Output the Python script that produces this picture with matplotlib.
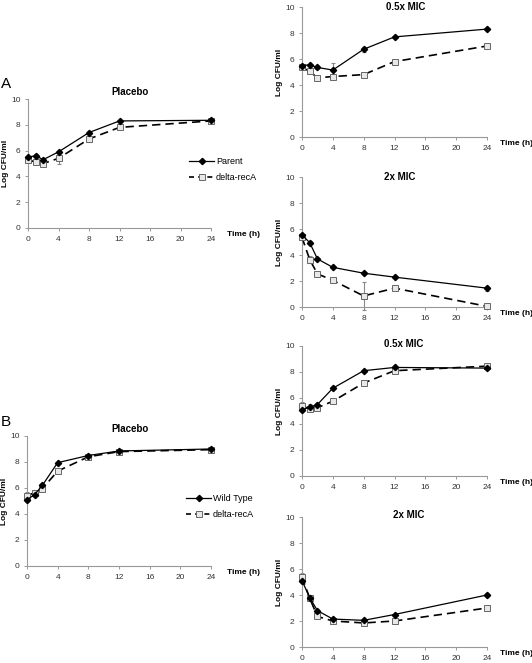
import numpy as np
import matplotlib
matplotlib.use("Agg")
import matplotlib.pyplot as plt
from matplotlib.lines import Line2D

plt.rcParams['font.family'] = ['Liberation Sans', 'DejaVu Sans']

# Temps de prélèvement (h)
t = [0, 1, 2, 4, 8, 12, 24]

# Panneau A
a_plac_par = [5.5, 5.6, 5.3, 5.9, 7.4, 8.3, 8.35]
a_plac_rec = [5.3, 5.1, 5.0, 5.4, 6.9, 7.8, 8.3]
a_plac_par_err = [0.1, 0.1, 0.1, 0.1, 0.15, 0.05, 0.1]
a_plac_rec_err = [0.1, 0.1, 0.1, 0.4, 0.15, 0.1, 0.15]

a_half_par = [5.5, 5.55, 5.35, 5.15, 6.75, 7.7, 8.3]
a_half_rec = [5.35, 5.05, 4.55, 4.65, 4.8, 5.8, 7.0]
a_half_par_err = [0.1, 0.1, 0.1, 0.55, 0.2, 0.05, 0.05]
a_half_rec_err = [0.1, 0.1, 0.05, 0.05, 0.05, 0.1, 0.05]

a_two_par = [5.55, 4.95, 3.7, 3.05, 2.6, 2.3, 1.45]
a_two_rec = [5.35, 3.65, 2.55, 2.05, 0.85, 1.45, 0.05]
a_two_par_err = [0.1, 0.1, 0.1, 0.05, 0.05, 0.05, 0.2]
a_two_rec_err = [0.15, 0.3, 0.1, 0.05, 1.1, 0.1, 0.05]

# Panneau B
b_plac_wt = [5.1, 5.5, 6.2, 7.95, 8.5, 8.85, 9.0]
b_plac_rec = [5.4, 5.65, 5.95, 7.3, 8.4, 8.8, 8.95]
b_plac_wt_err = [0.1, 0.1, 0.1, 0.05, 0.1, 0.05, 0.05]
b_plac_rec_err = [0.3, 0.1, 0.1, 0.05, 0.1, 0.05, 0.05]

b_half_wt = [5.1, 5.3, 5.5, 6.75, 8.1, 8.35, 8.3]
b_half_rec = [5.4, 5.15, 5.25, 5.75, 7.15, 8.1, 8.45]
b_half_wt_err = [0.1, 0.25, 0.1, 0.05, 0.05, 0.05, 0.05]
b_half_rec_err = [0.3, 0.1, 0.1, 0.05, 0.05, 0.05, 0.05]

b_two_wt = [5.1, 3.8, 2.8, 2.15, 2.05, 2.5, 4.0]
b_two_rec = [5.4, 3.75, 2.35, 2.0, 1.85, 2.0, 3.0]
b_two_wt_err = [0.1, 0.1, 0.1, 0.05, 0.05, 0.05, 0.15]
b_two_rec_err = [0.3, 0.1, 0.1, 0.05, 0.05, 0.05, 0.05]

xticks = [0, 4, 8, 12, 16, 20, 24]
yticks = [0, 2, 4, 6, 8, 10]

W, H = 532, 663
fig = plt.figure(figsize=(W / 100, H / 100), dpi=100)


def panneau(left, top, right, bottom, titre, y1, e1, y2, e2, ttl_x, ttl_dy, time_dx):
    ax = fig.add_axes([left / W, 1 - bottom / H, (right - left) / W, (bottom - top) / H])
    ax.errorbar(t, y1, yerr=e1, fmt='none', ecolor='#888888', elinewidth=0.8,
                capsize=1.5, capthick=0.8, zorder=2, clip_on=False)
    ax.errorbar(t, y2, yerr=e2, fmt='none', ecolor='#888888', elinewidth=0.8,
                capsize=1.5, capthick=0.8, zorder=2, clip_on=False)
    ax.plot(t, y1, color='black', lw=0.9, marker='D', ms=3.2, mfc='black', mec='black',
            zorder=4, clip_on=False)
    ax.plot(t, y2, color='black', lw=1.2, ls=(0, (5, 3)), marker='s', ms=4.2,
            mfc='#e8e8e8', mec='#666666', mew=0.7, zorder=3, clip_on=False)
    ax.set_xlim(0, 24)
    ax.set_ylim(0, 10)
    ax.set_xticks(xticks)
    ax.set_yticks(yticks)
    for s in ['top', 'right']:
        ax.spines[s].set_visible(False)
    for s in ['left', 'bottom']:
        ax.spines[s].set_color('#999999')
        ax.spines[s].set_linewidth(0.8)
    ax.tick_params(direction='out', length=2.5, width=0.7, color='#999999',
                   labelsize=6, labelcolor='#333333', pad=3)
    ax.set_ylabel('Log CFU/ml', fontsize=6, fontweight='bold')
    # bord droit du libellé à 19 px à gauche de l'axe
    ax.yaxis.set_label_coords(-19 / (right - left), 0.5)
    # titre : ligne de base décalée de ttl_dy pixels par rapport au haut des axes
    ax.annotate(titre, xy=(ttl_x, 1), xycoords='axes fraction', xytext=(0, ttl_dy * 0.72),
                textcoords='offset points', fontsize=7, fontweight='bold',
                ha='center', va='baseline')
    ax.annotate('Time (h)', xy=(1, 0), xycoords='axes fraction', xytext=(time_dx * 0.72, -5),
                textcoords='offset points', fontsize=6, fontweight='bold', ha='left', va='center')
    return ax


panneau(28, 99, 211, 228, 'Placebo', a_plac_par, a_plac_par_err, a_plac_rec, a_plac_rec_err,
        0.56, 4, 16)
panneau(302, 7, 487, 137, '0.5x MIC', a_half_par, a_half_par_err, a_half_rec, a_half_rec_err,
        0.56, -3, 13)
panneau(302, 177, 487, 307, '2x MIC', a_two_par, a_two_par_err, a_two_rec, a_two_rec_err,
        0.53, -3, 13)
panneau(27, 436, 211, 566, 'Placebo', b_plac_wt, b_plac_wt_err, b_plac_rec, b_plac_rec_err,
        0.56, 4, 16)
panneau(302, 346, 487, 476, '0.5x MIC', b_half_wt, b_half_wt_err, b_half_rec, b_half_rec_err,
        0.55, -1, 13)
panneau(302, 517, 487, 647, '2x MIC', b_two_wt, b_two_wt_err, b_two_rec, b_two_rec_err,
        0.575, -1, 13)

fig.text(1 / W, 1 - 84 / H, 'A', fontsize=11, va='center', ha='left')
fig.text(1 / W, 1 - 421.5 / H, 'B', fontsize=11, va='center', ha='left')


def legende(noms, x, y):
    h1 = Line2D([], [], color='black', lw=0.9, marker='D', ms=3.2, mfc='black', mec='black')
    h2 = Line2D([], [], color='black', lw=1.2, ls=(0, (3, 2.5)), marker='s', ms=4.2,
                mfc='#e8e8e8', mec='#666666', mew=0.7)
    fig.legend([h1, h2], noms, loc='upper left', bbox_to_anchor=(x / W, 1 - y / H),
               frameon=False, fontsize=6.5, handlelength=2.8, handletextpad=0.2,
               labelspacing=0.8, borderpad=0, borderaxespad=0)


legende(['Parent', 'delta-recA'], 189, 157)
legende(['Wild Type', 'delta-recA'], 186, 494)

fig.savefig("out.png", dpi=100)
